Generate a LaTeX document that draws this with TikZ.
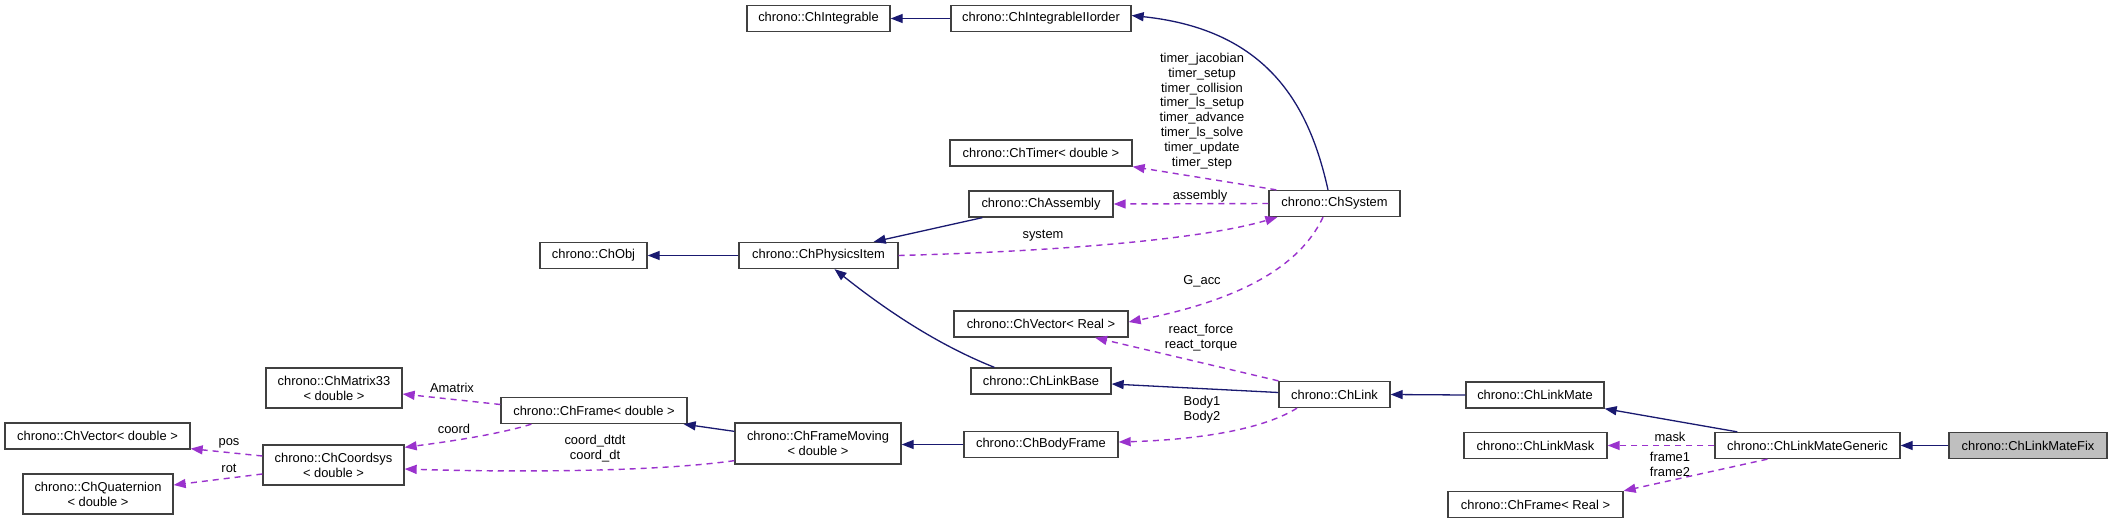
\documentclass[tikz,border=0pt]{standalone}
\usepackage{fontspec}
\setmainfont{Liberation Sans}
\usetikzlibrary{arrows.meta,calc}
\definecolor{navy}{HTML}{191970}
\definecolor{purp}{HTML}{9A32CD}
\definecolor{bord}{HTML}{404040}
\definecolor{fixgray}{HTML}{BFBFBF}
\newcommand{\dgfont}{\fontsize{12.9}{14.8}\selectfont}
\begin{document}
\begin{tikzpicture}[x=1pt,y=-1pt,
 box/.style={draw=bord, fill=white, line width=1.3pt, inner sep=0pt, align=center, font=\dgfont},
 sz/.style 2 args={minimum width=#1pt, minimum height=#2pt},
 inh/.style={draw=navy, line width=1.3pt, -{Triangle[length=12pt,width=9pt]}},
 usg/.style={draw=purp, line width=1.4pt, dash pattern=on 6pt off 5pt, -{Triangle[length=12pt,width=9pt]}},
 lbl/.style={font=\dgfont, inner sep=0pt, align=center}]
\fill[white] (0,0) rectangle (2112,524);
\useasboundingbox (0,0) rectangle (2112,524);

% nodes
\node[box,sz={143}{26}] (integ) at (818.5,18.5) {chrono::ChIntegrable};
\node[box,sz={180}{26}] (iiorder) at (1041,18.5) {chrono::ChIntegrableIIorder};
\node[box,sz={182}{26}] (timer) at (1041,153) {chrono::ChTimer< double >};
\node[box,sz={144}{26}] (assembly) at (1041,204) {chrono::ChAssembly};
\node[box,sz={131}{26}] (system) at (1334.5,203.5) {chrono::ChSystem};
\node[box,sz={107}{26}] (obj) at (593.5,255.5) {chrono::ChObj};
\node[box,sz={159}{26}] (physics) at (818.5,255.5) {chrono::ChPhysicsItem};
\node[box,sz={174}{26}] (vreal) at (1041,324) {chrono::ChVector< Real >};
\node[box,sz={136}{40}] (matrix) at (334,388) {chrono::ChMatrix33\\< double >};
\node[box,sz={186}{26}] (framed) at (594,410.5) {chrono::ChFrame< double >};
\node[box,sz={140}{26}] (linkbase) at (1041,381) {chrono::ChLinkBase};
\node[box,sz={111}{26}] (link) at (1334.5,394.5) {chrono::ChLink};
\node[box,sz={138}{26}] (linkmate) at (1535,395) {chrono::ChLinkMate};
\node[box,sz={185}{26}] (vdouble) at (97.5,436) {chrono::ChVector< double >};
\node[box,sz={141}{40}] (coordsys) at (333.5,465) {chrono::ChCoordsys\\< double >};
\node[box,sz={166}{41}] (framemoving) at (818,443.5) {chrono::ChFrameMoving\\< double >};
\node[box,sz={154}{26}] (bodyframe) at (1041,444.5) {chrono::ChBodyFrame};
\node[box,sz={143}{26}] (linkmask) at (1535.5,445.5) {chrono::ChLinkMask};
\node[box,sz={185}{26}] (generic) at (1807.5,445.5) {chrono::ChLinkMateGeneric};
\node[box,sz={158}{26},fill=fixgray] (fix) at (2028,445.5) {chrono::ChLinkMateFix};
\node[box,sz={150}{40}] (quat) at (98,494) {chrono::ChQuaternion\\< double >};
\node[box,sz={175}{26}] (freal) at (1535.5,504.5) {chrono::ChFrame< Real >};

% inheritance edges
\draw[inh] (iiorder.west) -- (integ.east);
\draw[inh] ($(system.north)+(-6.5,0)$) .. controls +(-18,-81) and +(139,14.5) .. ($(iiorder.east)+(0,-3)$);
\draw[inh] ($(assembly.south west)+(14,0)$) -- ($(physics.north east)+(-25,0)$);
\draw[inh] (physics.west) -- (obj.east);
\draw[inh] ($(linkbase.north west)+(24,0)$) .. controls +(-45,-18) and +(65.5,52) .. ($(physics.south)+(16,0)$);
\draw[inh] ($(link.west)+(0,-2)$) -- ($(linkbase.east)+(0,3)$);
\draw[inh] (bodyframe.west) -- (bodyframe.west -| framemoving.east);
\draw[inh] ($(framemoving.north west)+(0,9)$) -- ($(framed.south east)+(-4,0)$);
\draw[inh] (linkmate.west) -- (link.east);
\draw[inh] ($(generic.north west)+(23,0)$) -- (linkmate.south east);
\draw[inh] (fix.west) -- (generic.east);

% usage edges
\draw[usg] ($(system.north west)+(8,0)$) -- (timer.south east);
\draw[usg] (system.west) -- (assembly.east);
\draw[usg] (physics.east) .. controls +(152,-4) and +(-78,23) .. ($(system.south west)+(9,0)$);
\draw[usg] ($(system.south)+(-11.5,0)$) .. controls +(-23,49) and +(112,-22) .. ($(vreal.east)+(0,-2)$);
\draw[usg] (link.north west) -- ($(vreal.south)+(54,0)$);
\draw[usg] ($(link.south)+(-37.5,0)$) .. controls +(-37,23) and +(72,-2) .. ($(bodyframe.east)+(0,-2.5)$);
\draw[usg] ($(framemoving.south west)+(0,-4)$) .. controls +(-85,12) and +(96,3) .. ($(coordsys.east)+(0,4)$);
\draw[usg] ($(framed.south west)+(31,0)$) .. controls +(-32,10) and +(46,-6) .. ($(coordsys.north east)+(0,3)$);
\draw[usg] ($(framed.west)+(0,-6)$) -- ($(matrix.east)+(0,6)$);
\draw[usg] ($(coordsys.west)+(0,-9)$) -- ($(vdouble.south east)+(0,-1)$);
\draw[usg] ($(coordsys.west)+(0,9)$) -- ($(quat.east)+(0,-9)$);
\draw[usg] (generic.west) -- (linkmask.east);
\draw[usg] ($(generic.south west)+(53,0)$) -- (freal.north east);

% labels
\node[lbl] (ltimer) at (1202,111) {timer\_jacobian\\timer\_setup\\timer\_collision\\timer\_ls\_setup\\timer\_advance\\timer\_ls\_solve\\timer\_update\\timer\_step};
\node[lbl] (lassembly) at (1200,196) {assembly};
\node[lbl] (lsystem) at (1043,236) {system};
\node[lbl] (lgacc) at (1202,281) {G\_acc};
\node[lbl] (lreact) at (1201,338) {react\_force\\react\_torque};
\node[lbl] (lbody) at (1202,410) {Body1\\Body2};
\node[lbl] (lcoorddt) at (595,449) {coord\_dtdt\\coord\_dt};
\node[lbl] (lcoord) at (454,429) {coord};
\node[lbl] (lamatrix) at (452,388) {Amatrix};
\node[lbl] (lpos) at (229,443) {pos};
\node[lbl] (lrot) at (229,468) {rot};
\node[lbl] (lmask) at (1670,437) {mask};
\node[lbl] (lframe) at (1670,464) {frame1\\frame2};
\end{tikzpicture}
\end{document}
